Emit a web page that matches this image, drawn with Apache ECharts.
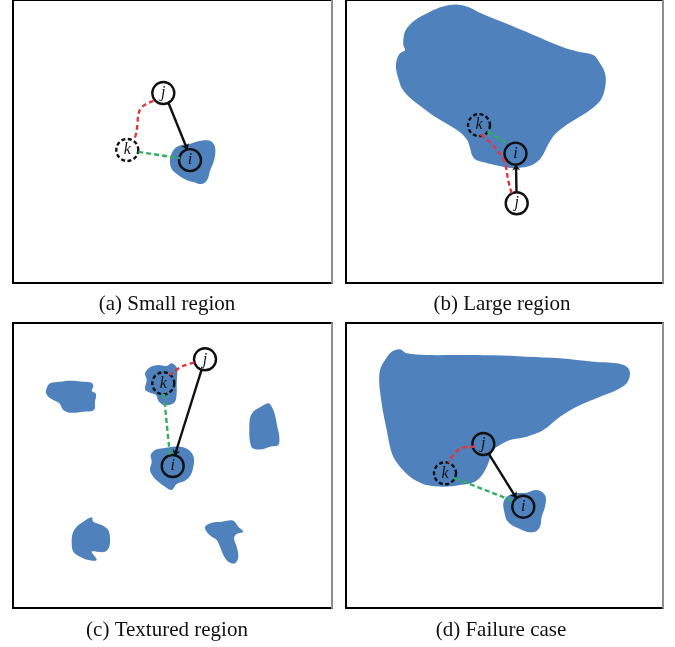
<!DOCTYPE html>
<html>
<head>
<meta charset="utf-8">
<script src="https://cdn.jsdelivr.net/npm/echarts@6/dist/echarts.min.js"></script>
<style>
  html, body { margin: 0; padding: 0; background: #fff; }
  #fig { width: 675px; height: 647px; }
</style>
</head>
<body>
<div id="fig"></div>
<script>
// Panel frames in figure pixels: [x0, x1, y0, y1]
const panelFrames = [
  [13, 332, -2, 283],
  [346, 663, -2, 283],
  [13, 332, 323, 608],
  [346, 663, 323, 608]
];
const captions = ['(a) Small region', '(b) Large region', '(c) Textured region', '(d) Failure case'];
const captionCenters = [[167, 304], [502, 304], [167, 630], [501, 630]];

// ---- (a) Small region ----
const regionsA = [
  [[170.7,155],[175,147.3],[181.7,144],[188.3,143.3],[196.7,140.7],[206,139.3],[211.7,140.7],[215,146],[215,155],[212.7,163.3],[210,170],[208.3,176.7],[205,181.7],[200,183.3],[195,181.7],[188.3,180],[181.7,176.7],[176.7,173.3],[171.7,168.3],[170,161.7]]
];
const nodesA = [['j', 163.3, 91.7], ['k', 127.3, 149], ['i', 190, 159.3]];
const arrowA = [[168, 100.5], [187.5, 149]];
const redA = [[153.5,99.5],[146,103],[141,107],[138.5,113],[137.5,122],[136.5,131],[134,139]];
const greenA = [[138.3,151],[180,157.3]];

// ---- (b) Large region ----
const regionsB = [
  [[448.3,3.3],[458.3,2.7],[468.3,5],[481.7,11.7],[501.7,20],[521.7,28.3],[541.7,36.7],[561.7,45],[578.3,50],[593.3,53.3],[600,61.7],[605,71.7],[605.7,81.7],[603.3,93.3],[598.3,101.7],[588.3,110],[575,118.3],[565,125],[555,133.3],[548.3,143.3],[543.3,153.3],[538.3,160],[531.7,164.3],[521.7,166.7],[511.7,167.3],[498.3,165],[485,161.7],[475,158.3],[471.7,153.3],[470,146.7],[466.7,138.3],[458.3,130],[445,121.7],[431.7,113.3],[418.3,103.3],[408.3,95],[401.7,86.7],[398.3,76.7],[396,66.7],[396.7,58.3],[400,51.7],[405,48.3],[403.3,43.3],[404,33.3],[406.7,26.7],[415,18.3],[426.7,11.7],[436.7,6.7]]
];
const nodesB = [['k', 479, 124], ['i', 515.5, 152.7], ['j', 516.7, 202.7]];
const arrowB = [[516.5, 192], [516, 163.5]];
const redB = [[511.7,192.7],[508.3,180],[506,166.7],[503.3,158.3],[495,146.7],[486.7,138.3],[480,133]];
const greenB = [[487.5,130.5],[506,141.7]];

// ---- (c) Textured region ----
const regionsC = [
  [[146.7,380],[145,373.3],[150,367.3],[158.3,365],[166.7,366],[171.7,363.3],[176.7,367.3],[177.3,373.3],[176.7,383.3],[176.7,393.3],[175,401.7],[169.3,405],[163.3,405],[158.3,400.7],[156,395],[150,392.7],[145,389.3]],
  [[151.7,461.7],[150.7,455],[155,450],[163.3,448.3],[173.3,446.7],[183.3,447.3],[190.7,451.7],[194,458.3],[193.3,466.7],[190.7,475],[185,480.7],[176.7,484],[171.7,490],[165,486.7],[158.3,481.7],[153.3,476.7],[150,470]],
  [[46.7,388.3],[50,383.3],[60,381.7],[70,380.7],[83.3,381.7],[91.7,382.7],[93.3,386.7],[91.7,390.7],[96,394],[95,401.7],[94,410],[83.3,411.7],[70,412.7],[63.3,410],[59.3,403.3],[53.3,400],[48.3,396.7],[46,392.7]],
  [[250,418.3],[253.3,411.7],[260,407.3],[268.3,403.3],[271.7,406.7],[275,415],[277.3,426.7],[279.3,436.7],[278.3,445],[270,446.7],[261.7,449.3],[252.7,448.3],[250,441.7],[249.3,430]],
  [[76.7,526.7],[83.3,521.7],[91.7,517.3],[93.3,521.7],[101.7,525],[108.3,530],[110,538.3],[109.3,546.7],[105,551.7],[96.7,551.7],[91.7,551.7],[96.7,560],[88.3,560],[80,556.7],[73.3,551.7],[71.7,543.3],[72.7,533.3]],
  [[205,526.7],[211.7,522.7],[221.7,521.7],[233.3,520.7],[238.3,526.7],[243.3,531.7],[236.7,534],[234,538.3],[236.7,546.7],[238.3,556.7],[235,563.3],[228.3,561.7],[223.3,555],[220,546.7],[216.7,540],[211.7,536.7],[206.7,531.7]]
];
const nodesC = [['j', 205, 359.3], ['k', 163.3, 383.3], ['i', 172.7, 466]];
const arrowC = [[201.7, 369.3], [174.6, 456]];
const redC = [[194.3,362.3],[187.5,364.5],[181.7,366.7],[175.5,370.5],[170,375]];
const greenC = [[163.8,394],[170,456]];

// ---- (d) Failure case ----
const regionsD = [
  [[391.7,351.7],[400,349.3],[406.7,353.3],[426.7,355],[460,355],[493.3,355.3],[526.7,356.7],[560,358.3],[593.3,361.7],[616.7,363.3],[626.7,366.7],[630,373.3],[626.7,383.3],[616.7,390],[600,396.7],[576.7,406.7],[560,416.7],[543.3,430],[526.7,436.7],[510,440],[500,445],[493.3,450],[488.3,463.3],[483.3,473.3],[475,481.7],[460,485],[443.3,486.7],[426.7,485],[418.3,481.7],[410,476.7],[400,466.7],[393.3,456.7],[390,446.7],[386.7,430],[383.3,413.3],[380.7,396.7],[379.3,383.3],[380,370],[385,360]],
  [[503.3,503.3],[506.7,496.7],[515,493.3],[526.7,492.7],[535,490],[541.7,491.7],[545.7,496.7],[545,506.7],[541.7,516.7],[540,526.7],[535,531.7],[526.7,531.7],[518.3,528.3],[511.7,525],[506.7,520],[504.3,511.7]]
];
const nodesD = [['j', 483.3, 444], ['k', 445, 473.3], ['i', 523.3, 506.7]];
const arrowD = [[488.5, 453.3], [516.5, 498.3]];
const redD = [[475,446.7],[463.3,447.3],[455,453.3],[448.3,462.7]];
const greenD = [[455,478.3],[515,501.7]];

const panels = [
  { regions: regionsA, nodes: nodesA, arrow: arrowA, red: redA, green: greenA },
  { regions: regionsB, nodes: nodesB, arrow: arrowB, red: redB, green: greenB },
  { regions: regionsC, nodes: nodesC, arrow: arrowC, red: redC, green: greenC },
  { regions: regionsD, nodes: nodesD, arrow: arrowD, red: redD, green: greenD }
];

const BLUE = '#4f81bd';
const RED = '#e2363f';
const GREEN = '#2fae62';
const INK = '#111111';
const SERIF = '"Liberation Serif", "DejaVu Serif", serif';

const grid = [], xAxis = [], yAxis = [], series = [], graphic = [];

panelFrames.forEach(function (f, p) {
  grid.push({
    left: f[0], top: f[2], width: f[1] - f[0], height: f[3] - f[2],
    show: true, borderColor: '#000', borderWidth: 2, backgroundColor: '#fff'
  });
  xAxis.push({ gridIndex: p, type: 'value', min: f[0], max: f[1], show: false });
  yAxis.push({
    gridIndex: p, type: 'value', min: f[2], max: f[3], inverse: true, position: 'right',
    axisLine: { show: true, lineStyle: { color: '#8e8e8e', width: 2 } },
    axisTick: { show: false }, axisLabel: { show: false }, splitLine: { show: false }
  });

  const d = panels[p];
  const shapes = d.regions;

  // segmented regions as filled polygons
  series.push({
    type: 'custom', xAxisIndex: p, yAxisIndex: p, silent: true,
    data: shapes.map(function (s) { return s[0]; }),
    renderItem: function (params, api) {
      const pts = shapes[params.dataIndex].map(function (pt) { return api.coord(pt); });
      return { type: 'polygon', shape: { points: pts, smooth: 0.35 }, style: { fill: BLUE } };
    }
  });

  // j -> k path (red dashed)
  series.push({
    type: 'line', xAxisIndex: p, yAxisIndex: p, silent: true, data: d.red,
    smooth: 0.5, symbol: 'none', lineStyle: { color: RED, width: 2.4, type: [5, 3] }
  });
  // k -> i link (green dashed)
  series.push({
    type: 'line', xAxisIndex: p, yAxisIndex: p, silent: true, data: d.green,
    symbol: 'none', lineStyle: { color: GREEN, width: 2.4, type: [5, 3] }
  });
  // j -> i direct edge (solid arrow)
  series.push({
    type: 'lines', coordinateSystem: 'cartesian2d', xAxisIndex: p, yAxisIndex: p, silent: true,
    symbol: ['none', 'arrow'], symbolSize: 6,
    lineStyle: { color: INK, width: 2.4, opacity: 1, curveness: 0 },
    data: [{ coords: d.arrow }]
  });
  // pixel nodes
  series.push({
    type: 'scatter', xAxisIndex: p, yAxisIndex: p, silent: true,
    symbol: 'circle', symbolSize: 22,
    data: d.nodes.map(function (n) {
      return {
        name: n[0], value: [n[1], n[2]],
        itemStyle: { borderType: n[0] === 'k' ? [4, 2.5] : 'solid' }
      };
    }),
    itemStyle: { color: 'rgba(0,0,0,0)', borderColor: INK, borderWidth: 2.4, opacity: 1 },
    label: {
      show: true, position: 'inside', formatter: '{b}', color: INK,
      fontFamily: SERIF, fontStyle: 'italic', fontSize: 16
    }
  });

  graphic.push({
    type: 'text', x: captionCenters[p][0], y: captionCenters[p][1], silent: true,
    style: {
      text: captions[p], align: 'center', verticalAlign: 'middle',
      fill: '#111', font: '21px ' + SERIF
    }
  });
});

const chart = echarts.init(document.getElementById('fig'), null, { renderer: 'canvas' });
chart.setOption({
  animation: false,
  backgroundColor: '#fff',
  grid: grid, xAxis: xAxis, yAxis: yAxis, series: series, graphic: graphic
});
</script>
</body>
</html>
